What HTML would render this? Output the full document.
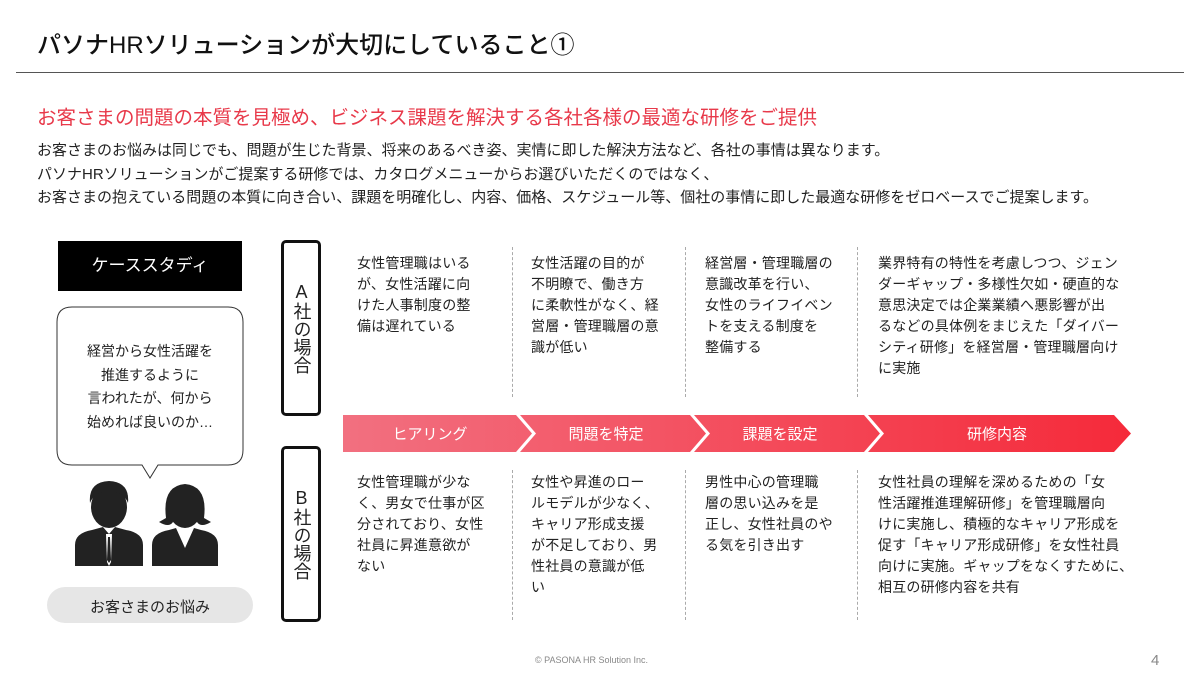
<!DOCTYPE html>
<html><head><meta charset="utf-8"><style>
*{margin:0;padding:0;box-sizing:border-box}
body{width:1200px;height:675px;background:#fff;position:relative;overflow:hidden;font-family:"Liberation Sans","Noto Sans CJK JP",sans-serif;color:#222}
.a{position:absolute;white-space:nowrap}
.t{font-size:14px;line-height:21px;letter-spacing:0.2px}
.dash{position:absolute;width:0;border-left:1px dashed #aaa}
.vbox{position:absolute;left:281px;width:40px;border:3px solid #111;border-radius:5px;font-size:18px;line-height:21px;text-align:center;display:flex;align-items:center;justify-content:center;writing-mode:vertical-rl;text-orientation:upright;letter-spacing:0}
</style></head><body>
<div class="a" style="left:37px;top:25px;font-size:24px;font-weight:500;color:#111">パソナHRソリューションが大切にしていること①</div>
<div class="a" style="left:16px;top:72px;width:1168px;height:1px;background:#555"></div>
<div class="a" style="left:37px;top:101px;font-size:19.5px;color:#e8394a">お客さまの問題の本質を見極め、ビジネス課題を解決する各社各様の最適な研修をご提供</div>
<div class="a" style="left:37px;top:139px;font-size:15px;line-height:23.5px">お客さまのお悩みは同じでも、問題が生じた背景、将来のあるべき姿、実情に即した解決方法など、各社の事情は異なります。<br>パソナHRソリューションがご提案する研修では、カタログメニューからお選びいただくのではなく、<br>お客さまの抱えている問題の本質に向き合い、課題を明確化し、内容、価格、スケジュール等、個社の事情に即した最適な研修をゼロベースでご提案します。</div>

<div class="a" style="left:58px;top:241px;width:184px;height:50px;background:#000;color:#fff;font-size:17px;line-height:50px;text-align:center">ケーススタディ</div>
<svg class="a" style="left:0;top:0" width="340" height="675">
<path d="M72 307 H228 Q243 307 243 322 V450 Q243 465 228 465 H158 L150 478 L142 465 H72 Q57 465 57 450 V322 Q57 307 72 307 Z" fill="#fff" stroke="#333" stroke-width="1"/>
<g fill="#222">
<ellipse cx="109" cy="507" rx="18" ry="21"/>
<path d="M90 503 Q88 482 109 481 Q130 482 128 503 Q124 492 109 491 Q94 492 90 503Z"/>
<path d="M75 566 V545 Q75 533 92 530 L103 527 L109 534 L115 527 L126 530 Q143 533 143 545 V566 Z"/>
<ellipse cx="185" cy="507" rx="17" ry="21"/>
<path d="M166 518 Q162 486 185 484 Q208 486 204 518 L211 522 Q201 528 197 522 Q201 495 185 494 Q169 495 173 522 Q169 528 159 522 Z"/>
<path d="M152 566 V545 Q152 533 169 530 L176 528 L185 548 L194 528 L201 530 Q218 533 218 545 V566 Z"/>
</g>
<path d="M106 534 L112 534 L111 562 L109 566 L107 562 Z" fill="#fff"/>
<path d="M108 537 L110 537 L111 560 L109 563 L107 560 Z" fill="#222"/>
<rect x="47" y="587" width="206" height="36" rx="18" fill="#e6e6e6"/>
</svg>
<div class="a" style="left:57px;top:340px;width:186px;text-align:center;font-size:14px;line-height:23.5px">経営から女性活躍を<br>推進するように<br>言われたが、何から<br>始めれば良いのか…</div>
<div class="a" style="left:47px;top:596px;width:206px;text-align:center;font-size:15px">お客さまのお悩み</div>

<div class="vbox" style="top:240px;height:176px">A社の場合</div>
<div class="vbox" style="top:446px;height:176px">B社の場合</div>

<div class="dash" style="left:512px;top:247px;height:150px"></div>
<div class="dash" style="left:685px;top:247px;height:150px"></div>
<div class="dash" style="left:857px;top:247px;height:150px"></div>
<div class="dash" style="left:512px;top:470px;height:150px"></div>
<div class="dash" style="left:685px;top:470px;height:150px"></div>
<div class="dash" style="left:857px;top:470px;height:150px"></div>

<svg class="a" style="left:0;top:0" width="1200" height="675">
<defs><linearGradient id="g" x1="343" x2="1130" gradientUnits="userSpaceOnUse"><stop offset="0" stop-color="#f27080"/><stop offset="1" stop-color="#f52a3a"/></linearGradient></defs>
<polygon points="343,415 516,415 532,433.5 516,452 343,452" fill="url(#g)"/>
<polygon points="520,415 690,415 706,433.5 690,452 520,452 536,433.5" fill="url(#g)"/>
<polygon points="694,415 864,415 880,433.5 864,452 694,452 710,433.5" fill="url(#g)"/>
<polygon points="868,415 1114,415 1131,433.5 1114,452 868,452 884,433.5" fill="url(#g)"/>
<g fill="#fff" font-size="15" text-anchor="middle" font-family="Liberation Sans,Noto Sans CJK JP,sans-serif">
<text x="430" y="439">ヒアリング</text><text x="606" y="439">問題を特定</text><text x="780" y="439">課題を設定</text><text x="997" y="439">研修内容</text>
</g>
</svg>

<div class="a t" style="left:357px;top:253px">女性管理職はいる<br>が、女性活躍に向<br>けた人事制度の整<br>備は遅れている</div>
<div class="a t" style="left:531px;top:253px">女性活躍の目的が<br>不明瞭で、働き方<br>に柔軟性がなく、経<br>営層・管理職層の意<br>識が低い</div>
<div class="a t" style="left:705px;top:253px">経営層・管理職層の<br>意識改革を行い、<br>女性のライフイベン<br>トを支える制度を<br>整備する</div>
<div class="a t" style="left:878px;top:253px">業界特有の特性を考慮しつつ、ジェン<br>ダーギャップ・多様性欠如・硬直的な<br>意思決定では企業業績へ悪影響が出<br>るなどの具体例をまじえた「ダイバー<br>シティ研修」を経営層・管理職層向け<br>に実施</div>

<div class="a t" style="left:357px;top:472px">女性管理職が少な<br>く、男女で仕事が区<br>分されており、女性<br>社員に昇進意欲が<br>ない</div>
<div class="a t" style="left:531px;top:472px">女性や昇進のロー<br>ルモデルが少なく、<br>キャリア形成支援<br>が不足しており、男<br>性社員の意識が低<br>い</div>
<div class="a t" style="left:705px;top:472px">男性中心の管理職<br>層の思い込みを是<br>正し、女性社員のや<br>る気を引き出す</div>
<div class="a t" style="left:878px;top:472px">女性社員の理解を深めるための「女<br>性活躍推進理解研修」を管理職層向<br>けに実施し、積極的なキャリア形成を<br>促す「キャリア形成研修」を女性社員<br>向けに実施。ギャップをなくすために、<br>相互の研修内容を共有</div>

<div class="a" style="left:535px;top:655px;font-size:9px;color:#888">© PASONA HR Solution Inc.</div>
<div class="a" style="left:1151px;top:652px;font-size:15px;color:#888">4</div>
</body></html>
